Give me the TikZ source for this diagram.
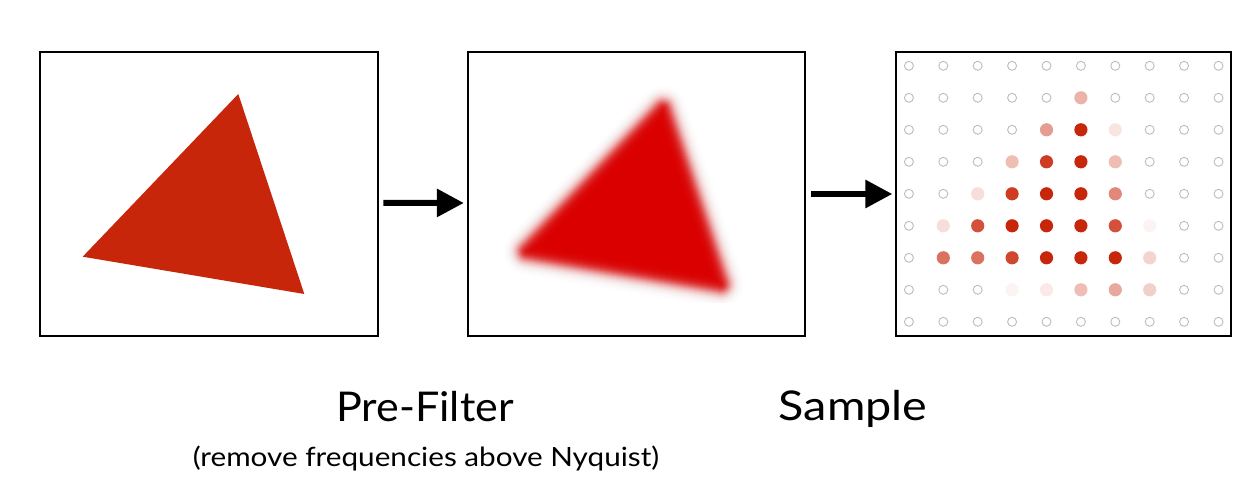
\documentclass[tikz,border=0pt]{standalone}
\usepackage{fontspec}
\setmainfont{Lato}
\usetikzlibrary{arrows.meta}
\definecolor{trired}{HTML}{C8260A}
\definecolor{blurred}{HTML}{DA0000}
\definecolor{ringgray}{HTML}{BDBDBD}
\tikzset{
  panel/.style={draw=black, line width=2.3bp, inner sep=0pt, fill=none},
  flowarrow/.style={line width=6bp, -{Triangle[length=27bp,width=27bp]}},
  ring/.style={draw=ringgray, line width=0.9bp, fill=white},
  dot/.style={fill=trired!#1!white},
  titletext/.style={font=\fontsize{41bp}{48bp}\selectfont, anchor=base, inner sep=0pt},
  subtext/.style={font=\fontsize{26.5bp}{31bp}\selectfont, anchor=base, inner sep=0pt},
  blurlayer/.style={blurred, opacity=#1},
}
\begin{document}
\begin{tikzpicture}[x=1bp,y=-1bp]
\useasboundingbox (0,0) rectangle (1246,493);
\fill[white] (0,0) rectangle (1246,493);

% original triangle
\fill[trired] (238.3,94) -- (82.7,256.7) -- (304.3,294) -- cycle;

% blurred triangle (layered approximation of a Gaussian blur)
\def\rr{8}
\begin{scope}
\clip (468,52) rectangle (745,303);
\foreach \k in {0,...,30}{
  \pgfmathsetmacro\tdist{15-\k}
  \pgfmathsetmacro\pcur{(\k==30) ? 0 : 1/(1+exp(-1.702*(\tdist-0.5)/5.5))}
  \pgfmathsetmacro\pprev{(\k==0) ? 1 : 1/(1+exp(-1.702*(\tdist+0.5)/5.5))}
  \pgfmathsetmacro\alay{1-\pcur/\pprev}
  \pgfmathsetmacro\fcore{(63.4-\rr)/63.4}
  \pgfmathsetmacro\wband{2*(\rr+\tdist)}
  \ifdim\wband pt>0.01pt
    \pgfmathsetmacro\finner{(63.4-2*\rr-\tdist)/63.4}
    \draw[blurlayer=\alay, line width=\wband bp, line join=round, shift={(639.2,214.1)}, scale=\fcore] (27.1,-120.1) -- (-128.5,42.6) -- (93.1,79.9) -- cycle;
  \else
    \pgfmathsetmacro\finner{(63.4+\tdist)/63.4}
  \fi
  \fill[blurlayer=\alay, shift={(639.2,214.1)}, scale=\finner] (27.1,-120.1) -- (-128.5,42.6) -- (93.1,79.9) -- cycle;
}
\end{scope}

% sample grid
\foreach \i in {0,...,9}{
  \foreach \j in {0,...,8}{
    \draw[ring] ({908.9+34.4*\i},{65.8+32*\j}) circle (4.5);
  }
}
\foreach \i/\j/\p in {5/1/35,
  4/2/45,5/2/100,6/2/12,
  3/3/30,4/3/90,5/3/100,6/3/30,
  2/4/15,3/4/90,4/4/100,5/4/100,6/4/55,
  1/5/15,2/5/80,3/5/100,4/5/100,5/5/100,6/5/80,7/5/5,
  1/6/65,2/6/65,3/6/85,4/6/100,5/6/100,6/6/100,7/6/20,
  3/7/5,4/7/10,5/7/30,6/7/40,7/7/22}{
  \fill[dot=\p] ({908.9+34.4*\i},{65.8+32*\j}) circle (6.6);
}

% panels
\node[panel, minimum width=337.7bp, minimum height=284.3bp] (orig) at (208.85,193.85) {};
\node[panel, minimum width=336.7bp, minimum height=284bp] (filt) at (636.35,194) {};
\node[panel, minimum width=335bp, minimum height=284bp] (samp) at (1063.5,194) {};

% arrows
\draw[flowarrow] ([xshift=4.5bp,yshift=-9bp]orig.east) -- ([xshift=-3bp,yshift=-9bp]filt.west);
\draw[flowarrow] ([xshift=5bp]filt.east) -- ([xshift=-2.5bp]samp.west);

% labels
\node[titletext] (lpre) at (425,421) {\scalebox{1.05}[1]{Pre-Filter}};
\node[titletext] (lsam) at (853,420) {\scalebox{1.14}[1]{Sample}};
\node[subtext] (lsub) at (426,466) {\scalebox{1.12}[1]{(remove frequencies above Nyquist)}};
\end{tikzpicture}
\end{document}
